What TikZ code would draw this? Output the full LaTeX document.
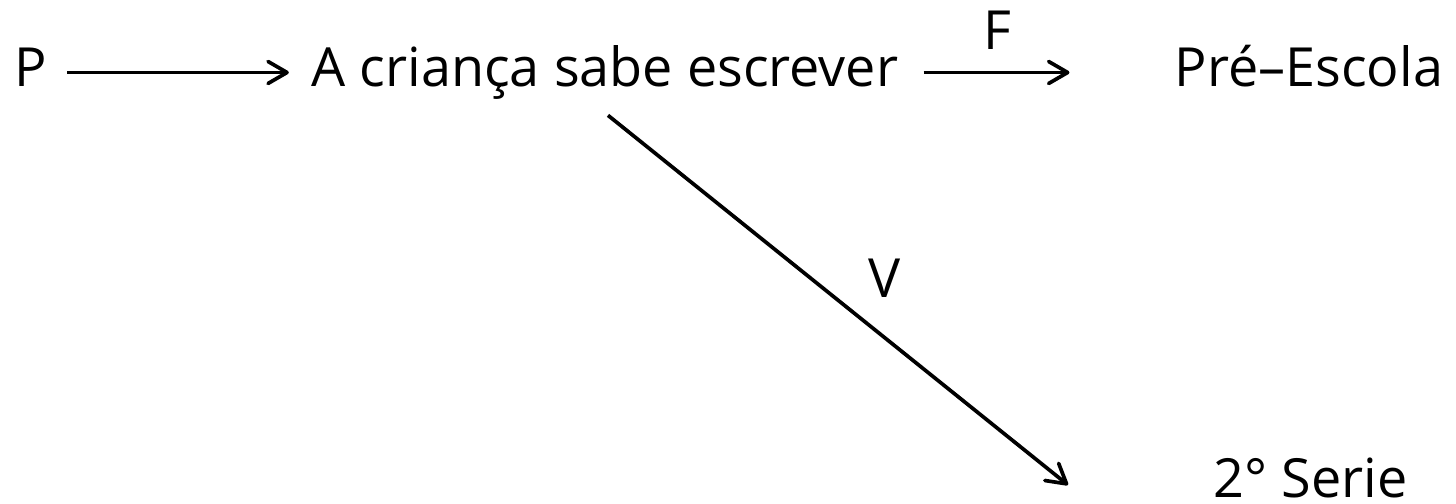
\documentclass[tikz,border=0pt]{standalone}
\usepackage{fontspec}
\setmainfont{Open Sans}
\usepackage{xcolor}
\usetikzlibrary{arrows.meta, positioning}

\begin{document}
\begin{tikzpicture}
    \useasboundingbox (0,0) rectangle (29.12,10.08);

    % Define style for texts and arrows
    \tikzstyle{word} = [inner xsep=0pt, inner ysep=0pt, text height=0.8cm, text depth=0.24cm, font=\fontsize{30.7}{36}\selectfont]
    \tikzstyle{arr} = [line width=2.1pt, -{Straight Barb[length=3.8mm, width=4.4mm, round]}]

    % Nodes
    \node (p) [word] at (0.61,8.63) {P};
    \node (crianca) [word] at (12.1,8.63) {A criança sabe escrever};
    \node (pre) [word] at (26.18,8.63) {Pré–Escola};
    \node (serie) [word, text depth=0pt, anchor=base] at (26.21,0.12) {2° Serie};
    \node (f) [word] at (19.94,9.36) {F};
    \node (v) [word] at (17.7,4.40) {V};
    \coordinate (vend) at (21.36,0.38);

    % Lines
    \draw[arr, shorten <=0.4cm, shorten >=0.45cm] (p) -- (crianca);
    \draw[arr, shorten <=0.5cm, shorten >=2.1cm] (crianca) -- (pre);
    \draw[arr] ([xshift=0.06cm, yshift=-0.33cm]crianca.south) -- (vend);

\end{tikzpicture}
\end{document}
